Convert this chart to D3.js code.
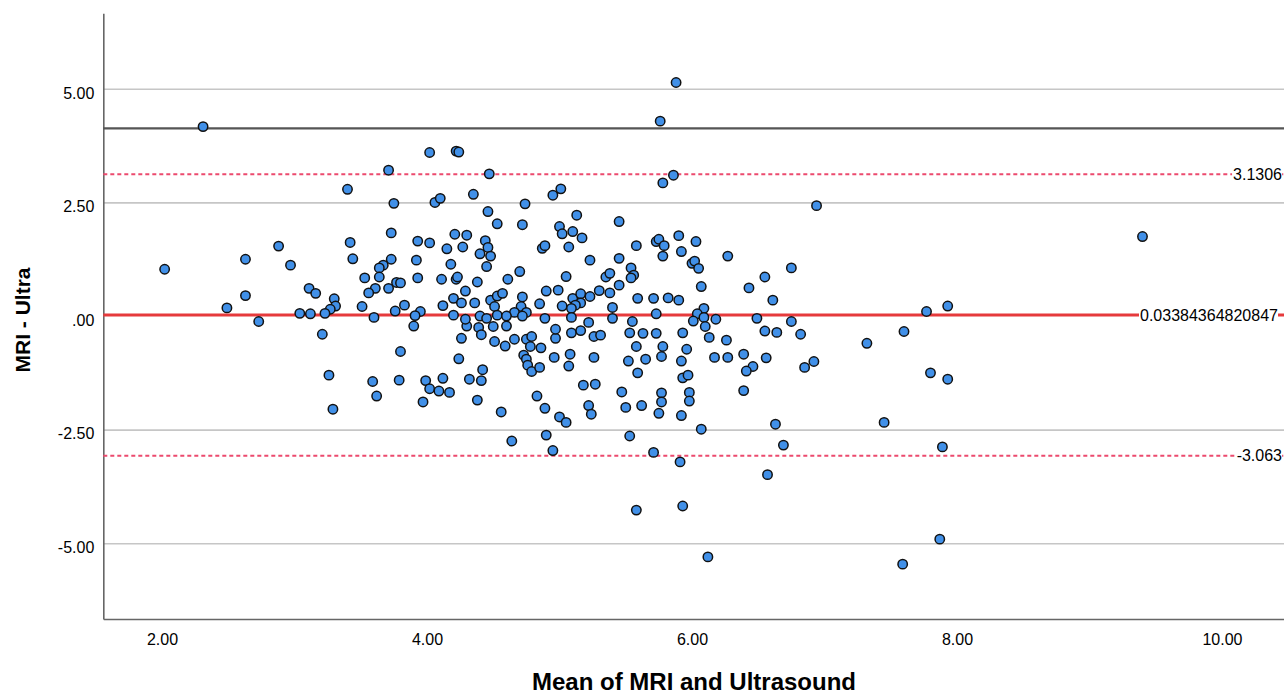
<!DOCTYPE html>
<html>
<head>
<meta charset="utf-8">
<script src="https://cdn.jsdelivr.net/npm/d3@7"></script>
<style>
  html, body { margin: 0; padding: 0; background: #fff; }
  svg { display: block; font-family: "Liberation Sans", Arial, sans-serif; }
</style>
</head>
<body>
<svg id="chart" width="1284" height="694"></svg>
<script>
// Mean of MRI and Ultrasound (x) for each case
const meanValues = [
  2.31,2.02,3.71,3.40,3.75,3.73,3.42,3.44,2.88,2.63,
  2.97,2.63,2.49,3.73,3.67,3.64,3.64,3.53,3.77,3.71,
  3.61,3.56,3.11,3.16,3.30,3.31,3.27,3.23,3.12,3.04,
  3.51,3.60,3.76,2.73,
  4.02,4.22,4.24,4.47,4.35,4.06,4.10,4.74,4.95,5.01,
  4.46,4.53,4.72,5.13,5.45,5.00,5.02,5.10,5.17,4.21,
  4.30,3.93,4.02,4.15,4.27,4.44,4.46,4.40,4.48,4.45,
  4.87,4.89,5.07,5.58,5.23,5.45,3.92,4.18,3.93,4.11,
  4.22,4.23,4.38,4.29,4.20,4.26,4.36,4.12,3.80,3.83,
  3.95,3.91,4.48,4.53,4.57,4.51,4.61,4.70,4.72,4.71,
  4.66,4.75,4.85,4.90,4.99,5.05,5.02,5.10,5.16,5.16,
  5.12,5.09,5.23,5.30,5.35,5.38,5.38,5.45,5.40,5.54,
  5.56,5.54,5.59,4.20,4.89,5.09,5.22,5.40,5.55,
  5.88,5.76,5.86,5.78,6.94,5.90,6.03,5.73,5.75,5.79,
  5.92,5.78,6.27,6.00,6.02,6.05,6.75,6.55,6.43,6.07,
  6.61,5.71,5.82,5.90,5.73,6.09,6.04,6.01,6.18,6.49,6.75,
  3.21,3.26,3.29,3.59,3.62,3.80,3.79,
  3.90,3.99,4.02,4.09,4.12,4.17,3.97,4.24,4.26,4.32,
  4.41,4.42,4.38,4.30,4.39,4.41,4.50,4.51,4.59,4.60,
  4.66,4.56,4.64,4.75,4.79,4.78,4.86,4.73,4.75,4.76,
  4.79,4.85,4.83,4.89,4.90,4.95,5.00,5.05,4.96,4.97,
  4.97,5.08,5.07,5.09,5.16,5.26,5.31,5.26,5.18,5.27,
  5.22,5.24,5.53,5.58,5.52,5.59,5.47,5.50,5.53,5.62,
  4.40,4.53,4.60,4.72,4.29,4.45,
  5.63,5.73,5.93,6.09,6.10,6.13,6.26,6.55,6.64,6.82,
  7.32,5.78,5.77,5.65,5.96,5.92,5.93,5.97,6.17,6.27,
  6.39,6.46,6.41,6.56,6.92,6.85,6.39,5.77,5.77,5.75,
  5.98,5.98,5.92,6.07,6.63,6.69,5.71,5.91,6.57,5.93,
  5.58,6.12,7.45,
  7.93,7.77,7.60,7.80,7.93,7.89,7.87,7.59,9.40
];

// MRI - Ultra difference (y), same order
const diffValues = [
  4.18,1.04,3.22,2.80,2.49,1.84,1.63,1.27,1.55,1.26,
  1.13,0.46,0.19,1.26,1.13,1.07,0.87,0.85,0.75,0.62,
  0.62,0.52,0.62,0.51,0.39,0.23,0.16,0.07,0.06,0.07,
  0.22,-0.02,0.12,-0.11,
  3.61,3.64,3.62,3.14,2.69,2.51,2.60,2.48,2.67,2.81,
  2.31,2.04,2.02,2.23,2.09,1.98,1.82,1.87,1.73,1.81,
  1.79,1.66,1.62,1.49,1.53,1.67,1.52,1.38,1.33,1.10,
  1.50,1.56,1.53,1.56,1.24,1.28,1.24,1.15,0.85,0.82,
  0.82,0.87,0.76,0.56,0.40,0.30,0.30,0.24,0.74,0.25,
  0.11,0.02,0.36,0.45,0.51,0.22,0.82,0.99,0.43,0.22,
  0.09,0.09,0.28,0.56,0.58,0.88,0.23,0.40,0.50,0.30,
  0.25,0.18,0.44,0.57,0.87,0.95,0.52,0.69,0.20,1.07,
  0.91,0.85,0.40,0.03,-0.04,-0.02,-0.13,-0.04,-0.11,
  5.15,4.30,3.11,2.94,2.44,1.78,1.65,1.65,1.70,1.56,
  1.43,1.33,1.33,1.17,1.22,1.06,1.07,0.87,0.63,0.66,
  0.36,0.40,0.41,0.36,0.06,0.18,0.06,-0.10,-0.06,-0.04,-0.11,
  -0.39,-1.29,-2.04,-1.43,-1.75,-0.77,-1.40,
  -0.21,-1.41,-1.59,-1.64,-1.36,-1.67,-1.88,-0.93,-0.48,-1.38,
  -1.41,-1.17,-1.84,-0.21,-0.24,-0.40,-0.22,-0.55,-0.65,-0.21,
  -0.50,-2.10,-2.74,-0.50,-0.44,-0.66,-0.69,-0.85,-0.94,-1.07,
  -1.21,-1.12,-1.75,-2.02,-2.61,-2.95,-2.21,-2.33,-0.90,-0.48,
  -0.28,-0.83,-1.09,-0.36,-0.31,-0.44,-0.41,-0.90,-1.51,-1.49,
  -1.96,-2.15,-0.36,-0.66,-0.98,-1.24,-1.66,-2.00,-2.63,-1.96,
  0.01,0.03,0.01,0.01,-0.06,-0.04,
  -0.37,-0.37,-0.36,-0.02,-0.22,-0.46,-0.52,-0.32,-0.35,-0.39,
  -0.59,-0.66,-0.88,-0.94,-0.72,-0.98,-1.35,-1.29,-0.90,-0.90,
  -0.83,-1.10,-1.20,-0.91,-0.99,-1.12,-1.63,-1.68,-1.88,-2.13,
  -1.67,-1.86,-2.18,-2.48,-2.37,-2.83,-2.99,-3.20,-3.48,-4.17,
  -4.26,-5.29,-2.33,
  0.23,0.11,-0.33,-1.24,-1.38,-2.87,-4.90,-5.45,1.76
];

const xTicks = [2, 4, 6, 8, 10];
const xTickLabels = ["2.00", "4.00", "6.00", "8.00", "10.00"];
const yTicks = [5, 2.5, 0, -2.5, -5];
const yTickLabels = ["5.00", "2.50", ".00", "-2.50", "-5.00"];

// reference lines: mean difference and limits of agreement
const meanDiff = 0.03384364820847;
const upperLimit = 3.1306;
const lowerLimit = -3.063;
const topRefLine = 4.14;

const points = meanValues.map((m, i) => ({ m, d: diffValues[i] }));

const svg = d3.select("#chart");
const plot = { left: 103.3, right: 1284, top: 13.3, bottom: 619 };

const x = d3.scaleLinear().domain([1.557, 10.468]).range([plot.left, plot.right]);
const y = d3.scaleLinear().domain([-6.657, 6.673]).range([plot.bottom, plot.top]);

// gridlines
svg.append("g")
  .selectAll("line")
  .data(yTicks.filter(t => t !== 0))
  .enter().append("line")
  .attr("x1", plot.left).attr("x2", plot.right)
  .attr("y1", d => y(d)).attr("y2", d => y(d))
  .attr("stroke", "#c6c6c6")
  .attr("stroke-width", 1.6);

// axes
svg.append("g")
  .attr("transform", `translate(${plot.left},0)`)
  .call(d3.axisLeft(y).tickValues(yTicks)
    .tickFormat((d, i) => yTickLabels[i])
    .tickSize(0).tickPadding(9))
  .call(g => g.select(".domain").attr("stroke", "#666").attr("stroke-width", 1.6))
  .call(g => g.selectAll(".tick text")
    .attr("dy", "0.55em")
    .attr("fill", "#000")
    .style("font-size", "16px")
    .style("font-family", "'Liberation Sans', Arial, sans-serif"));

svg.append("g")
  .attr("transform", `translate(0,${plot.bottom})`)
  .call(d3.axisBottom(x).tickValues(xTicks)
    .tickFormat((d, i) => xTickLabels[i])
    .tickSize(0).tickPadding(14.6))
  .call(g => g.select(".domain").attr("stroke", "#666").attr("stroke-width", 1.6))
  .call(g => g.selectAll(".tick text")
    .attr("fill", "#000")
    .style("font-size", "16px")
    .style("font-family", "'Liberation Sans', Arial, sans-serif"));

// reference lines
const lines = svg.append("g");
lines.append("line")
  .attr("x1", plot.left).attr("x2", plot.right)
  .attr("y1", y(topRefLine)).attr("y2", y(topRefLine))
  .attr("stroke", "#555").attr("stroke-width", 2.2);

[upperLimit, lowerLimit].forEach(v => {
  lines.append("line")
    .attr("x1", plot.left).attr("x2", plot.right)
    .attr("y1", y(v)).attr("y2", y(v))
    .attr("stroke", "#ec4a6e").attr("stroke-width", 2)
    .attr("stroke-dasharray", "4,3");
});

lines.append("line")
  .attr("x1", plot.left).attr("x2", plot.right)
  .attr("y1", y(meanDiff)).attr("y2", y(meanDiff))
  .attr("stroke", "#e63a3c").attr("stroke-width", 3);

// points
svg.append("g")
  .selectAll("circle")
  .data(points)
  .enter().append("circle")
  .attr("cx", d => x(d.m))
  .attr("cy", d => y(d.d))
  .attr("r", 4.7)
  .attr("fill", "#4190e8")
  .attr("stroke", "#111")
  .attr("stroke-width", 1.5);

// line labels with white backing
const labels = [
  { text: "3.1306", value: upperLimit, anchor: "end", xpos: 1282 },
  { text: "0.03384364820847", value: meanDiff, anchor: "start", xpos: 1140 },
  { text: "-3.063", value: lowerLimit, anchor: "end", xpos: 1282 }
];
labels.forEach(l => {
  const g = svg.append("g");
  const t = g.append("text")
    .attr("x", l.xpos)
    .attr("y", y(l.value))
    .attr("dy", "0.35em")
    .attr("text-anchor", l.anchor)
    .attr("fill", "#000")
    .style("font-size", "16px")
    .text(l.text);
  const b = t.node().getBBox();
  g.insert("rect", "text")
    .attr("x", b.x - 1).attr("y", b.y + 2)
    .attr("width", b.width + 1).attr("height", b.height - 4)
    .attr("fill", "#fff");
});

// axis titles
svg.append("text")
  .attr("x", 694)
  .attr("y", 690)
  .attr("text-anchor", "middle")
  .style("font-size", "24px")
  .style("font-weight", "bold")
  .attr("fill", "#000")
  .text("Mean of MRI and Ultrasound");

svg.append("text")
  .attr("transform", "translate(30,320) rotate(-90)")
  .attr("text-anchor", "middle")
  .style("font-size", "21px")
  .style("font-weight", "bold")
  .attr("fill", "#000")
  .text("MRI - Ultra");
</script>
</body>
</html>
